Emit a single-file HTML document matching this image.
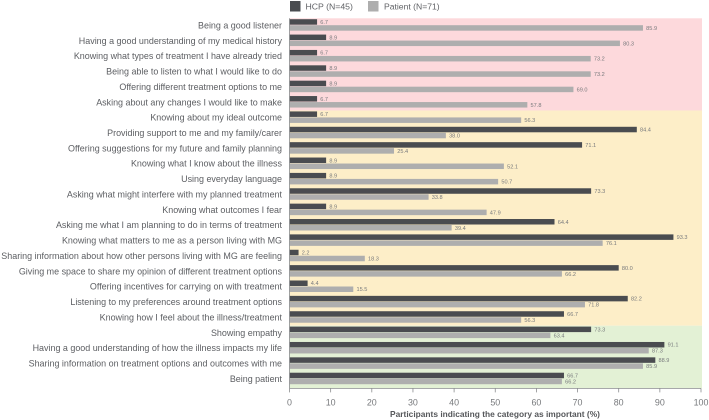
<!DOCTYPE html>
<html lang="en">
<head>
<meta charset="utf-8">
<title>Important categories chart</title>
<style>
html,body{margin:0;padding:0;background:#fff;width:709px;height:420px;overflow:hidden}
svg{display:block;font-family:"Liberation Sans",sans-serif}
</style>
</head>
<body>
<svg id="chart" width="709" height="420" viewBox="0 0 709 420" xmlns="http://www.w3.org/2000/svg">
  <g>
    <rect x="290" y="1" width="10.5" height="10.5" fill="#4a4c50"/>
    <text x="305.5" y="9.5" font-size="8.7" fill="#606266">HCP (N=45)</text>
    <rect x="368" y="1" width="10.5" height="10.5" fill="#aeaeae"/>
    <text x="384" y="9.5" font-size="8.6" fill="#606266">Patient (N=71)</text>
  </g>
  <g id="bands"></g>
  <g id="bars"></g>
  <g id="labels"></g>
  <g id="axis"></g>
  <text x="495" y="417" text-anchor="middle" font-size="8.4" font-weight="bold" fill="#55575a">Participants indicating the category as important (%)</text>
</svg>
<script>
const categories = [
  "Being a good listener",
  "Having a good understanding of my medical history",
  "Knowing what types of treatment I have already tried",
  "Being able to listen to what I would like to do",
  "Offering different treatment options to me",
  "Asking about any changes I would like to make",
  "Knowing about my ideal outcome",
  "Providing support to me and my family/carer",
  "Offering suggestions for my future and family planning",
  "Knowing what I know about the illness",
  "Using everyday language",
  "Asking what might interfere with my planned treatment",
  "Knowing what outcomes I fear",
  "Asking me what I am planning to do in terms of treatment",
  "Knowing what matters to me as a person living with MG",
  "Sharing information about how other persons living with MG are feeling",
  "Giving me space to share my opinion of different treatment options",
  "Offering incentives for carrying on with treatment",
  "Listening to my preferences around treatment options",
  "Knowing how I feel about the illness/treatment",
  "Showing empathy",
  "Having a good understanding of how the illness impacts my life",
  "Sharing information on treatment options and outcomes with me",
  "Being patient"
];
const hcpValues = [6.7,8.9,6.7,8.9,8.9,6.7,6.7,84.4,71.1,8.9,8.9,73.3,8.9,64.4,93.3,2.2,80.0,4.4,82.2,66.7,73.3,91.1,88.9,66.7];
const patientValues = [85.9,80.3,73.2,73.2,69.0,57.8,56.3,38.0,25.4,52.1,50.7,33.8,47.9,39.4,76.1,18.3,66.2,15.5,71.8,56.3,63.4,87.3,85.9,66.2];
const xTicks = [0,10,20,30,40,50,60,70,80,90,100];
const bandCounts = [6,14,4];
const bandColors = ["#fdd9dc","#fdeec8","#e3f1d5"];

const NS = "http://www.w3.org/2000/svg";
const plotLeft = 289.5, plotRight = 701, plotTop = 18.3, rowH = 15.37, firstBar = 19.2, barH = 5.5;
const xScale = v => plotLeft + (v / 100) * (plotRight - plotLeft);
const rowY = i => firstBar + i * rowH;
const plotBottom = rowY(categories.length - 1) + rowH + 0.3;
function make(tag, parent, attrs, text) {
  const el = document.createElementNS(NS, tag);
  for (const k in attrs) el.setAttribute(k, attrs[k]);
  if (text !== undefined) el.textContent = text;
  parent.appendChild(el);
  return el;
}
const bandsG = document.getElementById("bands");
const barsG = document.getElementById("bars");
const labelsG = document.getElementById("labels");
const axisG = document.getElementById("axis");

let startRow = 0;
bandCounts.forEach((n, b) => {
  const top = b === 0 ? plotTop : rowY(startRow) - 0.9;
  const end = startRow + n;
  const bottom = end === categories.length ? plotBottom : rowY(end) - 0.9;
  const band = make("rect", bandsG, {x: plotLeft, y: top, width: plotRight - plotLeft + 1, height: bottom - top, fill: bandColors[b]});
  
  
  startRow = end;
});

function drawSeries(values, offset, color, name) {
  values.forEach((v, i) => {
    const y = rowY(i) + offset;
    const bar = make("rect", barsG, {x: plotLeft, y: y, width: xScale(v) - plotLeft, height: barH, fill: color});
    
    
    const val = make("text", barsG, {x: xScale(v) + 3.2, y: y + barH / 2 + 2, "font-size": 5.6, fill: "#77797c"}, v.toFixed(1));
    
    
  });
}
drawSeries(patientValues, 6, "#aeaeae", "patient");
drawSeries(hcpValues, 0, "#4a4c50", "hcp");

categories.forEach((c, i) => {
  const t = make("text", labelsG, {x: 282, y: rowY(i) + 9.2, "text-anchor": "end", "font-size": 8.95, fill: "#5c5e62"}, c);
  
  
});

const axisLine = make("line", axisG, {x1: plotLeft, x2: plotRight, y1: plotBottom, y2: plotBottom, stroke: "#8a8c8e", "stroke-width": 0.8});


const yAxisLine = make("line", axisG, {x1: plotLeft, x2: plotLeft, y1: plotTop, y2: plotBottom, stroke: "#8a8c8e", "stroke-width": 0.8});


xTicks.forEach(v => {
  const x = xScale(v);
  const tick = make("line", axisG, {x1: x, x2: x, y1: plotBottom, y2: plotBottom + 4, stroke: "#8a8c8e", "stroke-width": 0.8});
  
  
  const lab = make("text", axisG, {x: x, y: 405.5, "text-anchor": "middle", "font-size": 8.9, fill: "#77797c"}, String(v));
  
  
});
</script>
</body>
</html>
